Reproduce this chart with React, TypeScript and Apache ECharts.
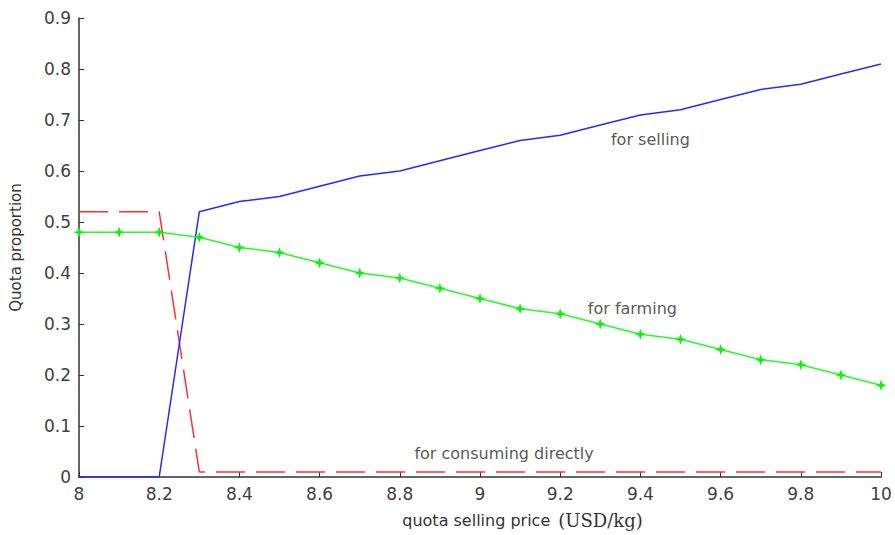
import React, { useEffect, useRef } from "react";
import * as echarts from "echarts";

const prices = [8, 8.1, 8.2, 8.3, 8.4, 8.5, 8.6, 8.7, 8.8, 8.9, 9, 9.1, 9.2, 9.3, 9.4, 9.5, 9.6, 9.7, 9.8, 9.9, 10];
const selling = [0, 0.0, 0, 0.52, 0.54, 0.55, 0.57, 0.59, 0.6, 0.62, 0.64, 0.66, 0.67, 0.69, 0.71, 0.72, 0.74, 0.76, 0.77, 0.79, 0.81];
const farming = [0.48, 0.48, 0.48, 0.47, 0.45, 0.44, 0.42, 0.4, 0.39, 0.37, 0.35, 0.33, 0.32, 0.3, 0.28, 0.27, 0.25, 0.23, 0.22, 0.2, 0.18];
const consuming = [0.52, 0.52, 0.52, 0.01, 0.01, 0.01, 0.01, 0.01, 0.01, 0.01, 0.01, 0.01, 0.01, 0.01, 0.01, 0.01, 0.01, 0.01, 0.01, 0.01, 0.01];
const annotations: [number, number, string][] = [
  [9.425, 0.661, "for selling"],
  [9.38, 0.331, "for farming"],
  [9.06, 0.047, "for consuming directly"],
];

const FONT = "'DejaVu Sans', Verdana, sans-serif";
const SERIF = "'DejaVu Serif', 'Liberation Serif', serif";

export default function App() {
  const ref = useRef<HTMLDivElement>(null);
  useEffect(() => {
    if (!ref.current) return;
    const chart = echarts.init(ref.current, null, { renderer: "svg" });
    const pair = (ys: number[]) => prices.map((x, i) => [x, ys[i]]);
    chart.setOption({
      animation: false,
      backgroundColor: "#ffffff",
      grid: { left: 76, right: 14, top: 18, bottom: 58 },
      xAxis: {
        type: "value",
        min: 8,
        max: 10,
        interval: 0.2,
        name: "{a|quota selling price}{b|(USD/kg)}",
        nameLocation: "middle",
        nameGap: 34,
        nameTextStyle: {
          padding: [0, 0, 0, 85],
          rich: {
            a: { fontFamily: FONT, fontSize: 16, color: "#333" },
            b: { fontFamily: SERIF, fontSize: 18, color: "#333", padding: [0, 0, 0, 8] },
          },
        },
        axisLine: { show: true, lineStyle: { color: "#333", width: 1.5 } },
        axisTick: { show: true, inside: true, length: 5, lineStyle: { color: "#333" } },
        axisLabel: { fontFamily: FONT, fontSize: 17, color: "#404040", margin: 8 },
        splitLine: { show: false },
      },
      yAxis: {
        type: "value",
        min: 0,
        max: 0.9,
        interval: 0.1,
        name: "Quota proportion",
        nameLocation: "middle",
        nameGap: 56,
        nameTextStyle: { fontFamily: FONT, fontSize: 15, color: "#333" },
        axisLine: { show: true, lineStyle: { color: "#333", width: 1.5 } },
        axisTick: { show: true, inside: true, length: 5, lineStyle: { color: "#333" } },
        axisLabel: { fontFamily: FONT, fontSize: 17, color: "#404040", margin: 8 },
        splitLine: { show: false },
      },
      series: [
        {
          type: "line",
          data: pair(selling),
          symbol: "none",
          lineStyle: { color: "#2828ff", width: 1.5 },
          z: 3,
        },
        {
          type: "line",
          data: pair(farming),
          symbol: "path://M0,-6 L1.6,-1.6 L6,0 L1.6,1.6 L0,6 L-1.6,1.6 L-6,0 L-1.6,-1.6 Z",
          symbolSize: 11,
          itemStyle: { color: "#11ee11" },
          lineStyle: { color: "#22ff22", width: 1.5 },
          z: 4,
        },
        {
          type: "line",
          data: pair(consuming),
          symbol: "none",
          lineStyle: { color: "#ff3030", width: 1.5, type: [29, 11] },
          z: 2,
        },
        {
          type: "scatter",
          data: annotations.map(([x, y, n]) => ({ value: [x, y], name: n })),
          symbolSize: 0,
          silent: true,
          label: {
            show: true,
            position: "inside",
            formatter: (p: any) => p.name,
            fontFamily: FONT,
            fontSize: 16,
            color: "#2a2a2a",
          },
          z: 5,
        },
      ],
    });
    return () => chart.dispose();
  }, []);
  return <div ref={ref} style={{ width: 895, height: 535, position: "absolute", left: 0, top: 0 }} />;
}
